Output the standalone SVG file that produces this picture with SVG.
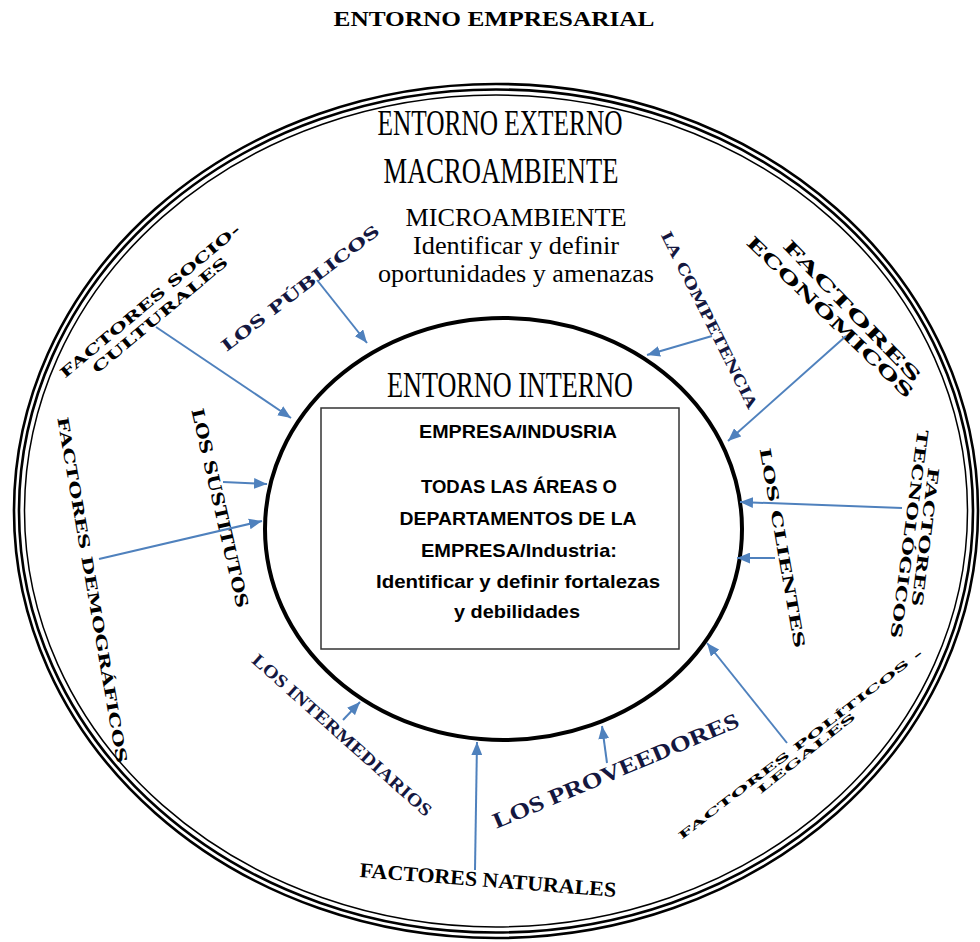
<svg xmlns="http://www.w3.org/2000/svg" width="980" height="942" viewBox="0 0 980 942">
<style>
.ttl{font-family:"Liberation Serif",serif;font-weight:bold;fill:#000}
.cond{font-family:"Liberation Serif",serif;fill:#000}
.box{font-family:"Liberation Sans",Arial,sans-serif;font-weight:bold;fill:#000;text-anchor:middle}
.wide{font-family:"DejaVu Serif",serif;font-weight:bold;fill:#000;text-anchor:middle}
.navy{fill:#14173f}
.ser{font-family:"Liberation Serif",serif;text-anchor:middle}
.arr{stroke:#4f81bd;stroke-width:2;fill:none;marker-end:url(#ah)}
</style>
<defs>
<marker id="ah" viewBox="0 0 12 10" refX="12" refY="5" markerWidth="13" markerHeight="11" orient="auto" markerUnits="userSpaceOnUse">
<path d="M0,0 L12,5 L0,10 z" fill="#4f81bd"/>
</marker>
</defs>
<rect width="980" height="942" fill="#fff"/>
<text class="ttl" x="494" y="26" font-size="21" text-anchor="middle" textLength="321" lengthAdjust="spacingAndGlyphs">ENTORNO EMPRESARIAL</text>

<g id="outer">
<ellipse cx="496" cy="511" rx="482" ry="427" fill="none" stroke="#000" stroke-width="2.6"/>
<ellipse cx="496" cy="511" rx="477" ry="421.5" fill="none" stroke="#000" stroke-width="2.6"/>
<ellipse cx="496" cy="511" rx="471.5" ry="416" fill="none" stroke="#000" stroke-width="1.5"/>
<text class="cond" x="500" y="135" font-size="35" text-anchor="middle" textLength="245" lengthAdjust="spacingAndGlyphs">ENTORNO EXTERNO</text>
<text class="cond" x="501" y="183" font-size="35" text-anchor="middle" textLength="235" lengthAdjust="spacingAndGlyphs">MACROAMBIENTE</text>
<text class="cond" x="516" y="226" font-size="25" text-anchor="middle" textLength="221" lengthAdjust="spacingAndGlyphs">MICROAMBIENTE</text>
<text class="cond" x="516" y="254" font-size="25" text-anchor="middle" textLength="206" lengthAdjust="spacingAndGlyphs">Identificar y definir</text>
<text class="cond" x="516" y="282" font-size="25" text-anchor="middle" textLength="276" lengthAdjust="spacingAndGlyphs">oportunidades y amenazas</text>
</g>

<g id="inner">
<ellipse cx="503.5" cy="529" rx="238.5" ry="211" fill="none" stroke="#000" stroke-width="4"/>
<text class="cond" x="510" y="397" font-size="35" text-anchor="middle" textLength="246" lengthAdjust="spacingAndGlyphs">ENTORNO INTERNO</text>
</g>

<g id="empresa">
<rect x="321" y="408" width="358" height="241" fill="none" stroke="#333" stroke-width="1.5"/>
<text class="box" x="518" y="438" font-size="18.5" textLength="198" lengthAdjust="spacingAndGlyphs">EMPRESA/INDUSRIA</text>
<text class="box" x="519" y="493" font-size="18.5" textLength="196" lengthAdjust="spacingAndGlyphs">TODAS LAS ÁREAS O</text>
<text class="box" x="518" y="525" font-size="18.5" textLength="237" lengthAdjust="spacingAndGlyphs">DEPARTAMENTOS DE LA</text>
<text class="box" x="519" y="557" font-size="18.5" textLength="196" lengthAdjust="spacingAndGlyphs">EMPRESA/Industria:</text>
<text class="box" x="518" y="588" font-size="18.5" textLength="284" lengthAdjust="spacingAndGlyphs">Identificar y definir fortalezas</text>
<text class="box" x="517" y="618" font-size="18.5" textLength="126" lengthAdjust="spacingAndGlyphs">y debilidades</text>
</g>

<g id="socioculturales">
<text class="wide" transform="translate(150,301) rotate(-40)" y="5" font-size="14" textLength="230" lengthAdjust="spacingAndGlyphs">FACTORES SOCIO-</text>
<text class="wide" transform="translate(160,315) rotate(-40)" y="5" font-size="14" textLength="172" lengthAdjust="spacingAndGlyphs">CULTURALES</text>
</g>
<g id="publicos">
<text class="wide navy" transform="translate(300,288) rotate(-37.7)" y="6" font-size="16" textLength="195" lengthAdjust="spacingAndGlyphs">LOS PÚBLICOS</text>
</g>
<g id="competencia">
<text class="wide navy" transform="translate(709,320) rotate(63.3)" y="5" font-size="15" textLength="196" lengthAdjust="spacingAndGlyphs">LA COMPETENCIA</text>
</g>
<g id="economicos">
<text class="wide" transform="translate(852,311) rotate(46)" y="6" font-size="17" textLength="190" lengthAdjust="spacingAndGlyphs">FACTORES</text>
<text class="wide" transform="translate(830,317) rotate(44)" y="6" font-size="17" textLength="224" lengthAdjust="spacingAndGlyphs">ECONÓMICOS</text>
</g>
<g id="sustitutos">
<text class="wide" transform="translate(220,508) rotate(77)" y="6" font-size="17" textLength="204" lengthAdjust="spacingAndGlyphs">LOS SUSTITUTOS</text>
</g>
<g id="demograficos">
<text class="wide" transform="translate(92,590) rotate(80.2)" y="5" font-size="15" textLength="351" lengthAdjust="spacingAndGlyphs">FACTORES DEMOGRÁFICOS</text>
</g>
<g id="clientes">
<text class="wide" transform="translate(782,548) rotate(80)" y="5" font-size="15" textLength="203" lengthAdjust="spacingAndGlyphs">LOS CLIENTES</text>
</g>
<g id="tecnologicos">
<text class="wide" transform="translate(925,537) rotate(97)" y="5" font-size="15" textLength="140" lengthAdjust="spacingAndGlyphs">FACTORES</text>
<text class="wide" transform="translate(909,534) rotate(97.5)" y="5" font-size="15" textLength="210" lengthAdjust="spacingAndGlyphs">TECNOLÓGICOS</text>
</g>
<g id="politicos">
<text class="wide" transform="translate(800,744) rotate(-37.5)" y="4" font-size="10" textLength="305" lengthAdjust="spacingAndGlyphs">FACTORES POLÍTICOS -</text>
<text class="wide" transform="translate(806,753) rotate(-38.7)" y="4" font-size="10" textLength="123" lengthAdjust="spacingAndGlyphs">LEGALES</text>
</g>
<g id="proveedores">
<text class="ser navy" transform="translate(616,771) rotate(-22.8)" y="7" font-size="22" font-weight="bold" textLength="265" lengthAdjust="spacingAndGlyphs">LOS PROVEEDORES</text>
</g>
<g id="intermediarios">
<text class="ser navy" transform="translate(342,735) rotate(41.7)" y="6" font-size="18" font-weight="bold" textLength="234" lengthAdjust="spacingAndGlyphs">LOS INTERMEDIARIOS</text>
</g>
<g id="naturales">
<text class="ser" transform="translate(488,880) rotate(4.4)" y="7" font-size="21" font-weight="bold" fill="#000" textLength="257" lengthAdjust="spacingAndGlyphs">FACTORES NATURALES</text>
</g>

<g id="connectors">
<line class="arr" x1="156" y1="327" x2="291" y2="418"/>
<line class="arr" x1="317" y1="280" x2="367" y2="343"/>
<line class="arr" x1="712" y1="336" x2="647" y2="355"/>
<line class="arr" x1="846" y1="336" x2="728" y2="441"/>
<line class="arr" x1="223" y1="482" x2="267" y2="484"/>
<line class="arr" x1="99" y1="559" x2="262" y2="521"/>
<line class="arr" x1="902" y1="508" x2="740" y2="502"/>
<line class="arr" x1="775" y1="558" x2="737" y2="558"/>
<line class="arr" x1="787" y1="743" x2="707" y2="643"/>
<line class="arr" x1="607" y1="763" x2="602" y2="726"/>
<line class="arr" x1="475" y1="870" x2="477" y2="742"/>
<line class="arr" x1="343" y1="720" x2="360" y2="702"/>
</g>
</svg>
